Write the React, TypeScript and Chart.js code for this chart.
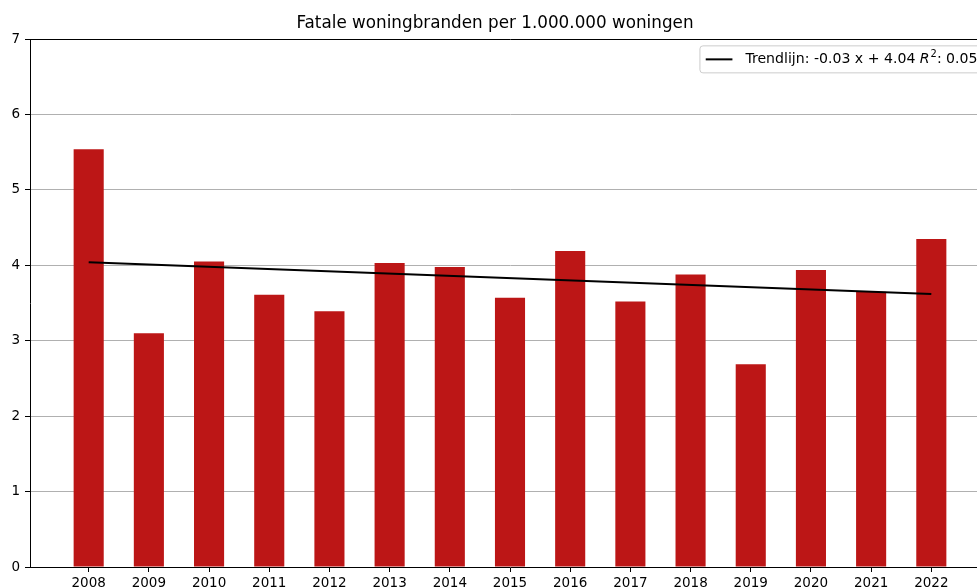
import React, { useEffect, useRef } from "react";
import { Chart, registerables } from "chart.js";

Chart.register(...registerables);

const YEARS = [2008, 2009, 2010, 2011, 2012, 2013, 2014, 2015, 2016, 2017, 2018, 2019, 2020, 2021, 2022];
const VALUES = [5.54, 3.10, 4.05, 3.61, 3.39, 4.03, 3.98, 3.57, 4.19, 3.52, 3.88, 2.69, 3.94, 3.65, 4.35];
const TREND_YEARS = [2008, 2022];
const TREND_VALUES = [4.04, 3.62];
const TITLE = "Fatale woningbranden per 1.000.000 woningen";
const LEGEND_PARTS = { pre: "Trendlijn: -0.03 x + 4.04 ", r: "R", sup: "2", post: ": 0.05" };
const Y_TICKS = [0, 1, 2, 3, 4, 5, 6, 7];

const FONT = "'DejaVu Sans', sans-serif";

const legendPlugin = {
  id: "mplLegend",
  afterDraw(chart: any) {
    const ctx = chart.ctx;
    const area = chart.chartArea;
    const fs = 14.1;
    const pad = 5.8;
    const handleLen = 26.7;
    const textPad = 13;
    const axPad = 6.7;
    ctx.save();
    ctx.font = `${fs}px ${FONT}`;
    const wPre = ctx.measureText(LEGEND_PARTS.pre).width;
    const wPost = ctx.measureText(LEGEND_PARTS.post).width;
    ctx.font = `italic ${fs}px ${FONT}`;
    const wR = ctx.measureText(LEGEND_PARTS.r).width;
    ctx.font = `${fs * 0.7}px ${FONT}`;
    const wSup = ctx.measureText(LEGEND_PARTS.sup).width;
    const textW = wPre + wR + wSup + 1 + wPost;
    const right = area.right - axPad;
    const top = area.top + axPad;
    const height = 27;
    const left = right - (pad + handleLen + textPad + textW + pad);
    const r = 3;
    ctx.beginPath();
    ctx.moveTo(left + r, top);
    ctx.lineTo(right - r, top);
    ctx.quadraticCurveTo(right, top, right, top + r);
    ctx.lineTo(right, top + height - r);
    ctx.quadraticCurveTo(right, top + height, right - r, top + height);
    ctx.lineTo(left + r, top + height);
    ctx.quadraticCurveTo(left, top + height, left, top + height - r);
    ctx.lineTo(left, top + r);
    ctx.quadraticCurveTo(left, top, left + r, top);
    ctx.closePath();
    ctx.fillStyle = "rgba(255,255,255,0.8)";
    ctx.fill();
    ctx.strokeStyle = "#cccccc";
    ctx.lineWidth = 1;
    ctx.stroke();
    const cy = top + height / 2;
    ctx.beginPath();
    ctx.moveTo(left + pad, cy);
    ctx.lineTo(left + pad + handleLen, cy);
    ctx.strokeStyle = "#000";
    ctx.lineWidth = 2;
    ctx.stroke();
    let x = left + pad + handleLen + textPad;
    ctx.fillStyle = "#000";
    ctx.textBaseline = "middle";
    ctx.textAlign = "left";
    ctx.font = `${fs}px ${FONT}`;
    ctx.fillText(LEGEND_PARTS.pre, x, cy);
    x += wPre;
    ctx.font = `italic ${fs}px ${FONT}`;
    ctx.fillText(LEGEND_PARTS.r, x, cy);
    x += wR + 1;
    ctx.font = `${fs * 0.7}px ${FONT}`;
    ctx.fillText(LEGEND_PARTS.sup, x, cy - 5);
    x += wSup;
    ctx.font = `${fs}px ${FONT}`;
    ctx.fillText(LEGEND_PARTS.post, x, cy);
    ctx.restore();
  },
};

export default function App() {
  const ref = useRef<HTMLCanvasElement | null>(null);

  useEffect(() => {
    document.body.style.margin = "0";
    document.body.style.overflow = "hidden";
    const canvas = ref.current;
    if (!canvas) return;
    const barData = YEARS.map((y, i) => ({ x: y, y: VALUES[i] }));
    const trendData = TREND_YEARS.map((y, i) => ({ x: y, y: TREND_VALUES[i] }));
    const chart = new Chart(canvas, {
      type: "bar",
      data: {
        datasets: [
          {
            type: "line",
            label: "Trendlijn",
            data: trendData,
            borderColor: "#000000",
            borderWidth: 2,
            pointRadius: 0,
            fill: false,
            order: 0,
          } as any,
          {
            type: "bar",
            label: "Fatale woningbranden",
            data: barData,
            backgroundColor: "#bc1616",
            borderWidth: 0,
            categoryPercentage: 1,
            barPercentage: 0.5,
            order: 1,
          } as any,
        ],
      },
      options: {
        responsive: false,
        animation: false,
        devicePixelRatio: 1,
        layout: { padding: { left: 0, right: 10, top: 0, bottom: 0 } },
        plugins: {
          legend: { display: false },
          tooltip: { enabled: false },
          title: {
            display: true,
            text: TITLE,
            color: "#000",
            font: { family: FONT, size: 16.8, weight: "normal", lineHeight: 1.2 },
            padding: { top: 14, bottom: 5 },
          },
        },
        scales: {
          x: {
            type: "linear",
            min: 2007.025,
            max: 2022.975,
            offset: false,
            afterFit: (s: any) => { s.height = 21; },
            grid: {
              display: true,
              drawOnChartArea: false,
              drawTicks: true,
              tickLength: 5,
              tickColor: "#000",
              offset: false,
            },
            border: { display: true, color: "#000", width: 1 },
            ticks: {
              stepSize: 1,
              includeBounds: false,
              autoSkip: false,
              maxRotation: 0,
              padding: 3,
              color: "#000",
              font: { family: FONT, size: 13.5 },
              callback: (v: any) => String(v),
            },
          },
          y: {
            min: Y_TICKS[0],
            max: Y_TICKS[Y_TICKS.length - 1],
            afterFit: (s: any) => { s.width = 30; },
            grid: {
              color: (c: any) => (c.tick && c.tick.value === 7 ? "#000" : c.tick && c.tick.value === 0 ? "rgba(0,0,0,0)" : "#b0b0b0"),
              lineWidth: 1,
              drawTicks: true,
              tickLength: 5,
              tickColor: "#000",
            },
            border: { display: true, color: "#000", width: 1 },
            ticks: {
              stepSize: 1,
              padding: 5,
              color: "#000",
              font: { family: FONT, size: 13.5 },
            },
          },
        },
      } as any,
      plugins: [legendPlugin],
    });
    return () => chart.destroy();
  }, []);

  return (
    <div style={{ position: "fixed", left: 0, top: 0, width: 977, height: 588, overflow: "hidden", background: "#fff" }}>
      <canvas ref={ref} width={1000} height={588} style={{ display: "block" }} />
    </div>
  );
}
